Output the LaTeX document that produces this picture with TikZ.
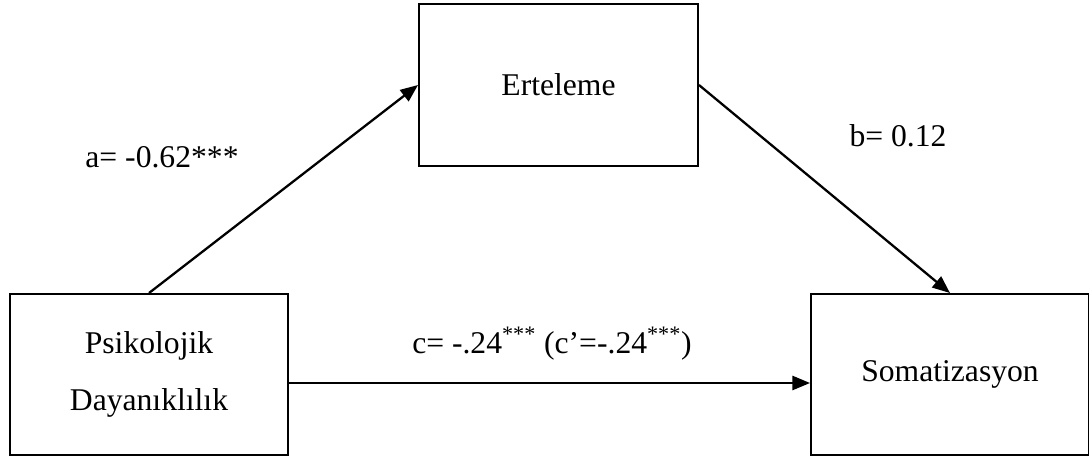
\documentclass[tikz,border=0pt]{standalone}
\usepackage{fontspec}
\setmainfont{Liberation Serif}
\usepackage{tikz}
\usetikzlibrary{arrows.meta,positioning}

\begin{document}
\begin{tikzpicture}[
  varbox/.style={draw, line width=1.1pt, minimum width=5.56cm,
                 minimum height=3.22cm, align=center, inner sep=0pt,
                 font=\fontsize{18}{32}\selectfont},
  coef/.style={anchor=base, inner sep=0pt, font=\fontsize{18}{22}\selectfont},
  arr/.style={-{Triangle[length=10pt, width=8pt]}, line width=1.3pt, black}
]
  \useasboundingbox (0,0) rectangle (21.78,9.14);
  \node[varbox] (psiko) at (2.98,1.65)  {Psikolojik\\Dayanıklılık};
  \node[varbox] (somat) at (19.0,1.65)  {Somatizasyon};
  \node[varbox, minimum width=5.58cm, minimum height=3.24cm] (ertel) at (11.17,7.44) {Erteleme};
  \node[coef] (alab) at (3.24,5.8)  {a= -0.62***};
  \node[coef] (blab) at (17.96,6.22) {b= 0.12};
  \node[coef] (clab) at (11.04,2.08) {c= -.24\textsuperscript{***} (c’=-.24\textsuperscript{***})};
  \draw[arr] (psiko.north) -- (ertel.west);
  \draw[arr] (ertel.east)  -- (somat.north);
  \draw[arr] ([yshift=-0.17cm]psiko.east) -- ([yshift=-0.17cm]somat.west);
\end{tikzpicture}
\end{document}
